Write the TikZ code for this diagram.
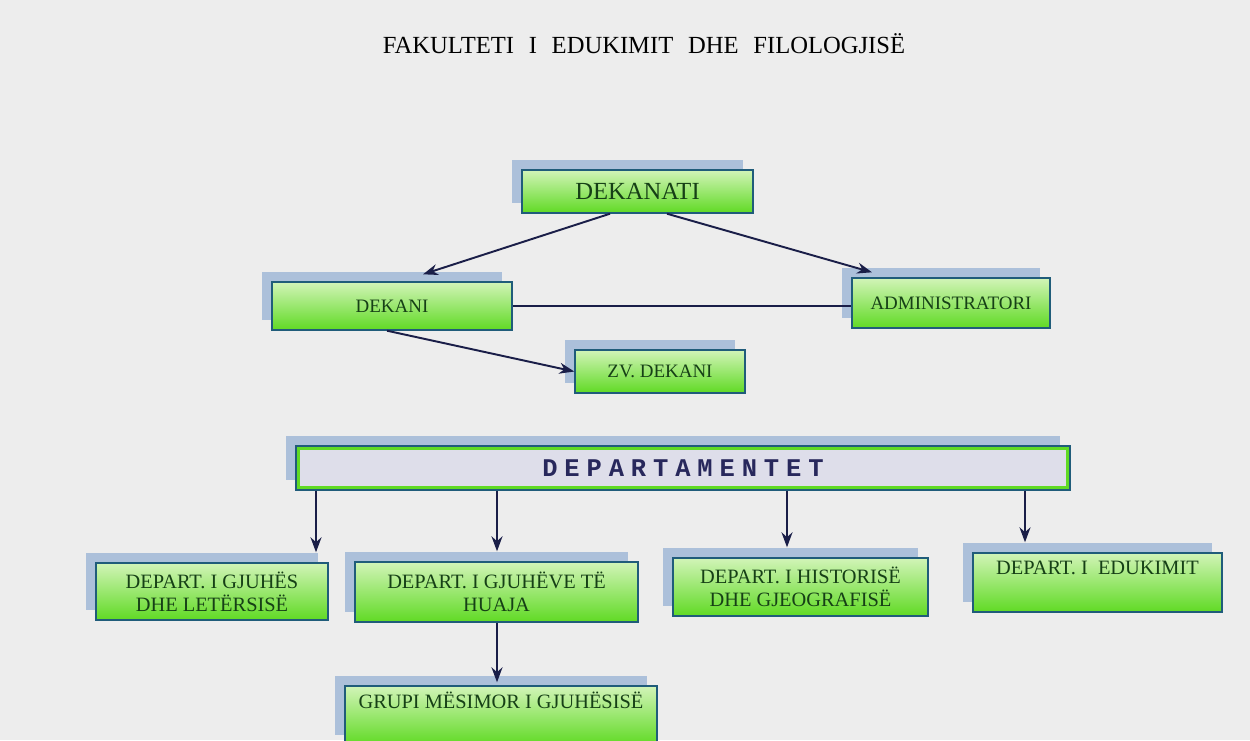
\documentclass[tikz,border=0pt]{standalone}
\usepackage{fontspec}
\setmainfont{Liberation Serif}
\newfontfamily\slabfont[LetterSpace=27]{Liberation Mono}
\usetikzlibrary{arrows.meta,shadows}

\definecolor{bgcol}{RGB}{237,237,237}
\definecolor{shadowcol}{RGB}{172,192,218}
\definecolor{greentop}{RGB}{210,244,184}
\definecolor{greenbot}{RGB}{96,218,36}
\definecolor{edgecol}{RGB}{32,92,122}
\definecolor{textcol}{RGB}{22,64,22}
\definecolor{arrowcol}{RGB}{26,30,72}
\definecolor{depfill}{RGB}{222,222,234}
\definecolor{deptext}{RGB}{40,40,92}

\begin{document}
\begin{tikzpicture}[
  box/.style={draw=edgecol,line width=0.8pt,top color=greentop,bottom color=greenbot,
    text=textcol,align=center,inner sep=2pt,
    drop shadow={shadow xshift=-0.2cm,shadow yshift=0.2cm,fill=shadowcol,opacity=1},
    font=\fontsize{10.8}{13}\selectfont},
  deptbox/.style={box,font=\fontsize{11.6}{13.2}\selectfont},
  depbox/.style={draw=edgecol,line width=0.8pt,fill=depfill,text=deptext,
    drop shadow={shadow xshift=-0.2cm,shadow yshift=0.2cm,fill=shadowcol,opacity=1},
    path picture={\draw[greenbot,line width=4.5pt] (path picture bounding box.south west)
      rectangle (path picture bounding box.north east);}},
  arr/.style={draw=arrowcol,line width=1.1pt,-{Stealth[length=3mm,width=2.2mm]}},
  link/.style={draw=arrowcol,line width=1.1pt}]
  \fill[bgcol] (0,0) rectangle (25,-14.8);
  \useasboundingbox (0,0) rectangle (25,-14.8);

  % title
  \node (title) at (12.88,-0.88) {\fontsize{14}{16}\selectfont
    FAKULTETI\hspace{.6em}I\hspace{.6em}EDUKIMIT\hspace{.6em}DHE\hspace{.6em}FILOLOGJISË};

  % upper part
  \node[box,minimum width=4.62cm,minimum height=0.86cm,font=\fontsize{14}{16}\selectfont]
    (dekanati) at (12.75,-3.83) {DEKANATI};
  \node[box,minimum width=4.8cm,minimum height=0.96cm] (dekani) at (7.84,-6.12) {DEKANI};
  \node[box,minimum width=3.96cm,minimum height=1cm] (admin) at (19.02,-6.06) {ADMINISTRATORI};
  \node[box,minimum width=3.4cm,minimum height=0.86cm] (zvdekani) at (13.2,-7.43) {ZV. DEKANI};

  \draw[arr] ([xshift=-0.55cm]dekanati.south) -- ([xshift=0.62cm,yshift=0.14cm]dekani.north);
  \draw[arr] ([xshift=0.59cm]dekanati.south) -- ([xshift=-1.58cm,yshift=0.1cm]admin.north);
  \draw[link] (dekani.east) -- (dekani.east -| admin.west);
  \draw[arr] ([xshift=-0.1cm]dekani.south) -- (zvdekani.west);

  % departments
  \node[depbox,minimum width=15.48cm,minimum height=0.88cm] (dep) at (13.66,-9.36)
    {\slabfont\bfseries\fontsize{14.5}{16}\selectfont DEPARTAMENTET};

  \node[deptbox,minimum width=4.64cm,minimum height=1.14cm] (gjuhes) at (4.24,-11.83)
    {DEPART. I GJUHËS\\DHE LETËRSISË};
  \node[deptbox,minimum width=5.66cm,minimum height=1.2cm] (gjuheve) at (9.93,-11.84)
    {DEPART. I GJUHËVE TË\\HUAJA};
  \node[deptbox,minimum width=5.1cm,minimum height=1.16cm] (historise) at (16.01,-11.74)
    {DEPART. I HISTORISË\\DHE GJEOGRAFISË};
  \node[deptbox,minimum width=4.98cm,minimum height=1.18cm] (edukimit) at (21.95,-11.65)
    {DEPART.\ I\ \ EDUKIMIT\\\strut};
  \node[deptbox,minimum width=6.24cm,minimum height=1.18cm] (grupi) at (10.02,-14.31)
    {GRUPI MËSIMOR I GJUHËSISË\\\strut};

  \draw[arr] ([xshift=2.08cm]gjuhes.north |- dep.south) -- ([xshift=2.08cm,yshift=0.2cm]gjuhes.north);
  \draw[arr] ([xshift=0.01cm]gjuheve.north |- dep.south) -- ([xshift=0.01cm,yshift=0.2cm]gjuheve.north);
  \draw[arr] ([xshift=-0.27cm]historise.north |- dep.south) -- ([xshift=-0.27cm,yshift=0.2cm]historise.north);
  \draw[arr] ([xshift=-1.45cm]edukimit.north |- dep.south) -- ([xshift=-1.45cm,yshift=0.2cm]edukimit.north);
  \draw[arr] ([xshift=0.01cm]gjuheve.south) -- ([xshift=0.01cm,yshift=0.06cm]gjuheve.south |- grupi.north);
\end{tikzpicture}
\end{document}
